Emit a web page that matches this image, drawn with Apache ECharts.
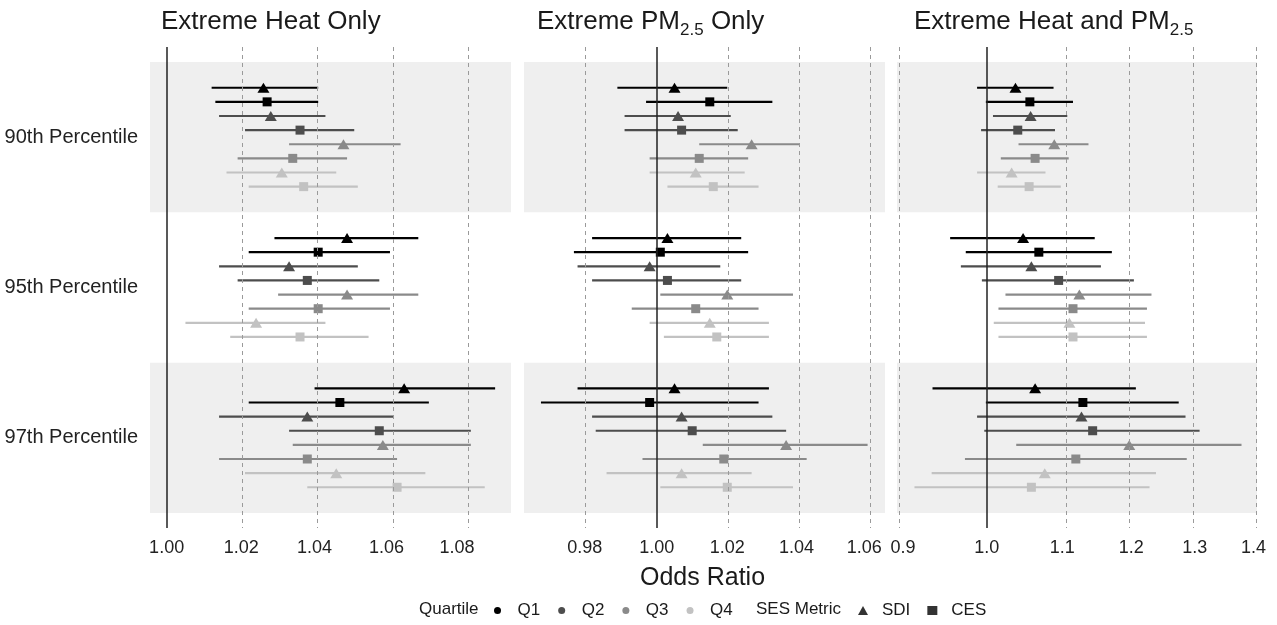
<!DOCTYPE html>
<html>
<head>
<meta charset="utf-8">
<script src="https://cdn.jsdelivr.net/npm/echarts@6/dist/echarts.min.js"></script>
<style>
  html, body { margin: 0; padding: 0; background: #fff; }
  #chart { width: 1277px; height: 625px; }
</style>
</head>
<body>
<div id="chart"></div>
<script>
// facets / groups / legend keys
const panelTitles = ['{a|Extreme Heat Only}', '{a|Extreme PM}{s|2.5}{a| Only}', '{a|Extreme Heat and PM}{s|2.5}']
const percentiles = ['90th Percentile', '95th Percentile', '97th Percentile']
const quartiles = ['Q1', 'Q2', 'Q3', 'Q4']
const metrics = ['SDI', 'CES']
// rows inside a percentile: Q1 SDI, Q1 CES, Q2 SDI, Q2 CES, ... Q4 CES

// Extreme Heat Only
const heatEst = [1.026, 1.027, 1.028, 1.036, 1.048, 1.034, 1.031, 1.037,
  1.049, 1.041, 1.033, 1.038, 1.049, 1.041, 1.024, 1.036,
  1.065, 1.047, 1.038, 1.058, 1.059, 1.038, 1.046, 1.063]
const heatLo = [1.012, 1.013, 1.014, 1.021, 1.033, 1.019, 1.016, 1.022,
  1.029, 1.022, 1.014, 1.019, 1.030, 1.022, 1.005, 1.017,
  1.040, 1.022, 1.014, 1.033, 1.034, 1.014, 1.021, 1.038]
const heatHi = [1.041, 1.041, 1.043, 1.051, 1.064, 1.049, 1.046, 1.052,
  1.069, 1.061, 1.052, 1.058, 1.069, 1.061, 1.043, 1.055,
  1.091, 1.072, 1.062, 1.084, 1.084, 1.063, 1.071, 1.088]

// Extreme PM2.5 Only
const pmEst = [1.005, 1.015, 1.006, 1.007, 1.027, 1.012, 1.011, 1.016,
  1.003, 1.001, 0.998, 1.003, 1.020, 1.011, 1.015, 1.017,
  1.005, 0.998, 1.007, 1.010, 1.037, 1.019, 1.007, 1.020]
const pmLo = [0.989, 0.997, 0.991, 0.991, 1.012, 0.998, 0.998, 1.003,
  0.982, 0.977, 0.978, 0.982, 1.001, 0.993, 0.998, 1.002,
  0.978, 0.968, 0.982, 0.983, 1.013, 0.996, 0.986, 1.001]
const pmHi = [1.020, 1.033, 1.021, 1.023, 1.041, 1.026, 1.025, 1.029,
  1.024, 1.026, 1.018, 1.024, 1.039, 1.029, 1.032, 1.032,
  1.032, 1.029, 1.033, 1.037, 1.061, 1.043, 1.027, 1.039]

// Extreme Heat and PM2.5
const bothEst = [1.037, 1.056, 1.057, 1.040, 1.089, 1.063, 1.032, 1.055,
  1.047, 1.068, 1.058, 1.095, 1.124, 1.115, 1.110, 1.115,
  1.063, 1.129, 1.127, 1.143, 1.197, 1.119, 1.076, 1.058]
const bothLo = [0.988, 0.999, 1.008, 0.993, 1.041, 1.018, 0.988, 1.014,
  0.955, 0.974, 0.968, 0.994, 1.024, 1.015, 1.009, 1.015,
  0.934, 0.999, 0.988, 0.997, 1.038, 0.973, 0.933, 0.913]
const bothHi = [1.088, 1.115, 1.107, 1.090, 1.137, 1.109, 1.077, 1.098,
  1.146, 1.171, 1.155, 1.204, 1.231, 1.224, 1.221, 1.224,
  1.207, 1.274, 1.285, 1.308, 1.379, 1.287, 1.238, 1.228]

// x axis (log scale) limits and tick labels
const heatRange = [0.9956, 1.0956]
const pmRange = [0.9634, 1.0662]
const bothRange = [0.8931, 1.4062]
const heatTicks = [1.00, 1.02, 1.04, 1.06, 1.08]
const pmTicks = [0.98, 1.00, 1.02, 1.04, 1.06]
const bothTicks = [0.9, 1.0, 1.1, 1.2, 1.3, 1.4]

const qColors = ['#000000', '#4d4d4d', '#8a8a8a', '#c2c2c2']
const FONT = 'Liberation Sans, Arial, sans-serif'
const DODGE = 0.094

const panels = [
  { est: heatEst, lo: heatLo, hi: heatHi, range: heatRange, ticks: heatTicks, dec: 2, left: 150, width: 361, titleX: 161 },
  { est: pmEst, lo: pmLo, hi: pmHi, range: pmRange, ticks: pmTicks, dec: 2, left: 524, width: 361, titleX: 537 },
  { est: bothEst, lo: bothLo, hi: bothHi, range: bothRange, ticks: bothTicks, dec: 1, left: 897, width: 360, titleX: 914 }
]

function rowsOf(p) {
  const rows = []
  percentiles.forEach((_, g) => {
    quartiles.forEach((__, q) => {
      metrics.forEach((___, m) => {
        const i = g * 8 + q * 2 + m
        rows.push({ y: g + (q * 2 + m - 3.5) * DODGE, q: q, m: m, est: p.est[i], lo: p.lo[i], hi: p.hi[i] })
      })
    })
  })
  return rows
}

const grids = []
const xAxes = []
const yAxes = []
const series = []
const graphics = []

panels.forEach((p, k) => {
  grids.push({ left: p.left, width: p.width, top: 47, height: 481 })
  xAxes.push({
    type: 'value',
    gridIndex: k,
    min: Math.log(p.range[0]),
    max: Math.log(p.range[1]),
    axisLine: { show: false },
    axisTick: { show: false },
    splitLine: { show: false },
    axisLabel: {
      customValues: p.ticks.map(Math.log),
      formatter: v => Math.exp(v).toFixed(p.dec),
      fontSize: 18,
      color: '#222',
      margin: 11,
      fontFamily: FONT
    }
  })
  yAxes.push({
    type: 'value',
    gridIndex: k,
    min: -0.6,
    max: 2.6,
    inverse: true,
    axisLine: { show: false },
    axisTick: { show: false },
    splitLine: { show: false },
    axisLabel: {
      show: k === 0,
      customValues: [0, 1, 2],
      formatter: v => percentiles[Math.round(v)],
      fontSize: 20,
      color: '#222',
      margin: 12,
      fontFamily: FONT
    }
  })

  const rows = rowsOf(p)

  // background bands + reference lines
  series.push({
    type: 'scatter',
    xAxisIndex: k,
    yAxisIndex: k,
    data: [],
    silent: true,
    markArea: {
      silent: true,
      itemStyle: { color: '#efefef' },
      data: [[{ yAxis: -0.5 }, { yAxis: 0.5 }], [{ yAxis: 1.5 }, { yAxis: 2.5 }]]
    },
    markLine: {
      silent: true,
      symbol: 'none',
      label: { show: false },
      animation: false,
      data: p.ticks.map(t => ({
        xAxis: Math.log(t),
        lineStyle: t === 1
          ? { color: '#222', width: 1.5, type: 'solid' }
          : { color: '#9a9a9a', width: 1, type: [4, 4] }
      }))
    }
  })

  // confidence intervals
  series.push({
    type: 'custom',
    xAxisIndex: k,
    yAxisIndex: k,
    silent: true,
    encode: { x: [0, 1], y: 2 },
    data: rows.map(r => [Math.log(r.lo), Math.log(r.hi), r.y, r.q]),
    renderItem(params, api) {
      const a = api.coord([api.value(0), api.value(2)])
      const b = api.coord([api.value(1), api.value(2)])
      return {
        type: 'line',
        shape: { x1: a[0], y1: a[1], x2: b[0], y2: b[1] },
        style: { stroke: qColors[api.value(3)], lineWidth: 2.2 }
      }
    }
  })

  // point estimates
  quartiles.forEach((qName, q) => {
    series.push({
      name: qName,
      type: 'scatter',
      xAxisIndex: k,
      yAxisIndex: k,
      itemStyle: { color: qColors[q], opacity: 1 },
      data: rows.filter(r => r.q === q).map(r => ({
        value: [Math.log(r.est), r.y],
        symbol: r.m === 0 ? 'triangle' : 'rect',
        symbolSize: r.m === 0 ? [12, 10] : 9
      }))
    })
  })

  graphics.push({
    type: 'text',
    left: p.titleX,
    top: 9,
    style: {
      text: panelTitles[k],
      rich: {
        a: { fontSize: 26, lineHeight: 34, fill: '#1a1a1a', fontFamily: FONT },
        s: { fontSize: 17, lineHeight: 17, fill: '#1a1a1a', fontFamily: FONT, verticalAlign: 'bottom' }
      }
    }
  })
})

// legend-only series for the shapes
series.push({ name: 'SDI', type: 'scatter', symbol: 'triangle', itemStyle: { color: '#000' }, data: [] })
series.push({ name: 'CES', type: 'scatter', symbol: 'rect', itemStyle: { color: '#000' }, data: [] })

graphics.push({
  type: 'text', left: 640, top: 566,
  style: { text: 'Odds Ratio', fontSize: 25, fill: '#1a1a1a', fontFamily: FONT }
})
graphics.push({
  type: 'text', left: 419, top: 601,
  style: { text: 'Quartile', fontSize: 17, fill: '#1a1a1a', fontFamily: FONT }
})
graphics.push({
  type: 'text', left: 756, top: 601,
  style: { text: 'SES Metric', fontSize: 17, fill: '#1a1a1a', fontFamily: FONT }
})

const chart = echarts.init(document.getElementById('chart'))
chart.setOption({
  animation: false,
  backgroundColor: '#fff',
  textStyle: { fontFamily: FONT },
  tooltip: { trigger: 'item' },
  grid: grids,
  xAxis: xAxes,
  yAxis: yAxes,
  legend: [
    {
      data: quartiles,
      left: 489,
      top: 597,
      icon: 'circle',
      itemWidth: 30,
      itemHeight: 7,
      itemGap: 18,
      textStyle: { fontSize: 17, color: '#1a1a1a', fontFamily: FONT }
    },
    {
      data: [{ name: 'SDI', icon: 'triangle' }, { name: 'CES', icon: 'rect' }],
      left: 853,
      top: 597,
      itemWidth: 10,
      itemHeight: 9,
      itemGap: 17,
      textStyle: { fontSize: 17, color: '#1a1a1a', fontFamily: FONT, padding: [0, 0, 0, 9] }
    }
  ],
  graphic: graphics,
  series: series
})
</script>
</body>
</html>
